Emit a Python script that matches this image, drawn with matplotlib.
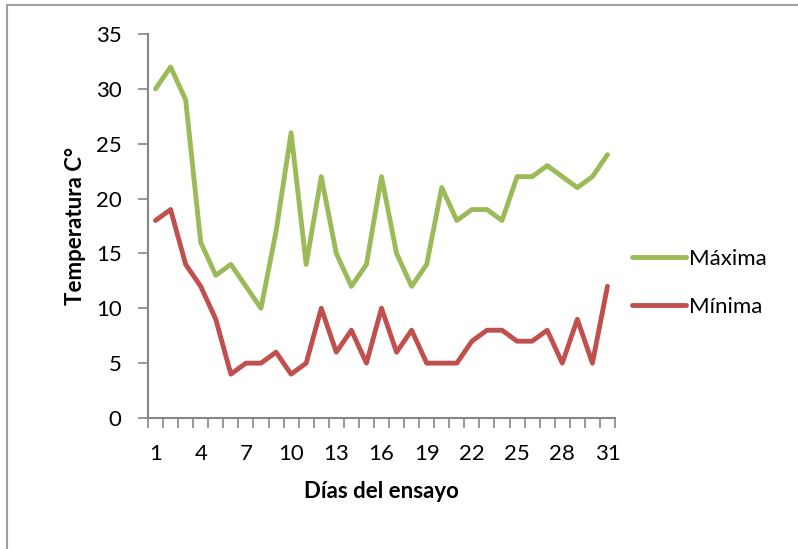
import matplotlib.pyplot as plt
import numpy as np
from matplotlib.patches import Rectangle

plt.rcParams['font.family'] = ['Lato', 'DejaVu Sans']

dias = list(range(1, 32))
maxima = [30, 32, 29, 16, 13, 14, 12, 10, 17, 26, 14, 22, 15, 12, 14, 22,
          15, 12, 14, 21, 18, 19, 19, 18, 22, 22, 23, 22, 21, 22, 24]
minima = [18, 19, 14, 12, 9, 4, 5, 5, 6, 4, 5, 10, 6, 8, 5, 10,
          6, 8, 5, 5, 5, 7, 8, 8, 7, 7, 8, 5, 9, 5, 12]
etiquetas_x = dias[::3]
ticks_y = [0, 5, 10, 15, 20, 25, 30, 35]

verde = '#9BBB59'
rojo = '#C0504D'
gris = '#868686'

fig = plt.figure(figsize=(7.98, 5.49), dpi=100)
ax = fig.add_axes([148/798, 131/549, 467/798, 384/549])

ax.plot(dias, maxima, color=verde, lw=3.5, solid_joinstyle='round',
        solid_capstyle='round', label='Máxima')
ax.plot(dias, minima, color=rojo, lw=3.5, solid_joinstyle='round',
        solid_capstyle='round', label='Mínima')

ax.set_xlim(0.5, 31.5)
ax.set_ylim(0, 35)

# ticks entre categorías, etiquetas cada 3 días
ax.set_xticks(etiquetas_x)
ax.set_xticklabels([str(d) for d in etiquetas_x])
ax.set_xticks(np.arange(0.5, 32, 1), minor=True)
ax.tick_params(axis='x', which='major', length=0, pad=19, labelsize=16)
ax.tick_params(axis='x', which='minor', length=7, width=1.2, color=gris)
ax.set_yticks(ticks_y)
ax.tick_params(axis='y', length=7, width=1.2, color=gris, pad=12, labelsize=16)

for s in ['top', 'right']:
    ax.spines[s].set_visible(False)
for s in ['left', 'bottom']:
    ax.spines[s].set_color(gris)
    ax.spines[s].set_linewidth(1.5)

ax.set_xlabel('Días del ensayo', fontsize=16, fontweight='bold', labelpad=12)
ax.set_ylabel('Temperatura C°', fontsize=16, fontweight='bold', labelpad=7)

ax.legend(loc='center left', bbox_to_anchor=(632/798, 266/549),
          bbox_transform=fig.transFigure, frameon=False, fontsize=16,
          handlelength=2.45, handletextpad=0.1, labelspacing=1.25,
          borderpad=0, borderaxespad=0)

# borde del gráfico
fig.patches.append(Rectangle((7/798, -0.05), 1.2, 1.05 - 5/549, transform=fig.transFigure,
                             fill=False, edgecolor='#a0a0a0', lw=1.5))

fig.savefig('out.png', dpi=100)
